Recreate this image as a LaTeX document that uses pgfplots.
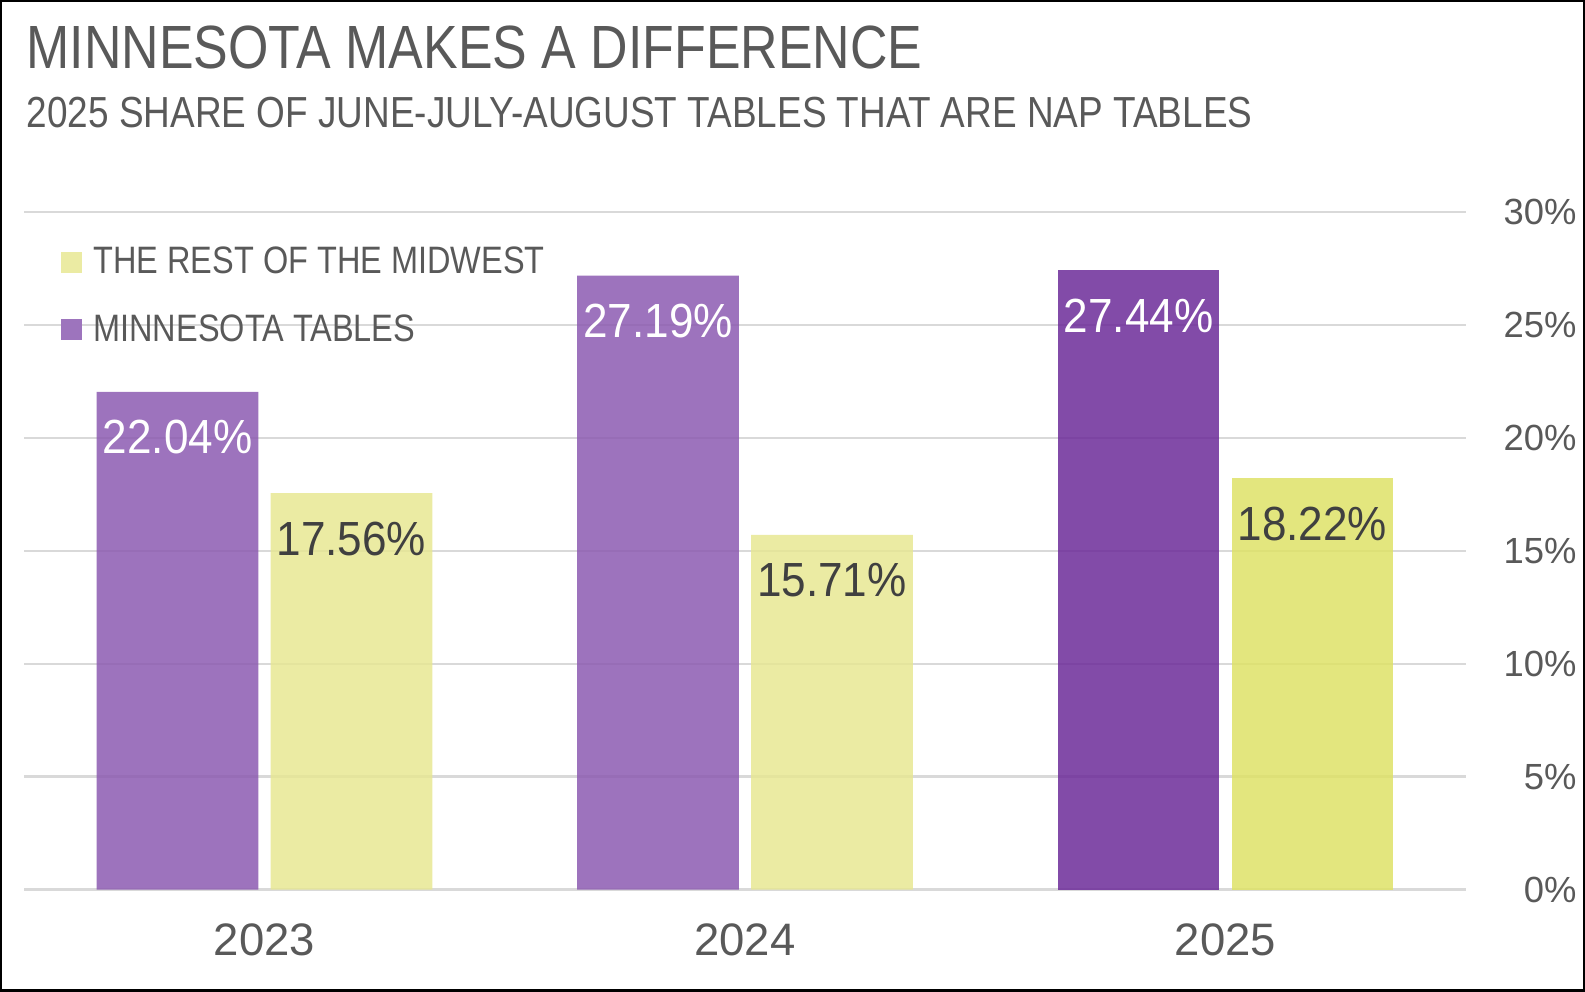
\documentclass[border=0pt]{standalone}
\usepackage{pgfplots}
\pgfplotsset{compat=1.18}
\usepackage{fontspec}
\setmainfont{Liberation Sans}[FakeStretch=0.85]
\newfontfamily\numfont{Liberation Sans}[FakeStretch=0.92]
\newfontfamily\tickfont{Liberation Sans}
\definecolor{txt}{HTML}{595959}
\definecolor{lbl}{HTML}{404040}
\definecolor{gridc}{HTML}{D9D9D9}
\definecolor{purA}{RGB}{140,91,177}
\definecolor{purB}{RGB}{108,43,153}
\definecolor{yelA}{RGB}{231,231,147}
\definecolor{yelB}{RGB}{222,226,103}
\definecolor{purL}{RGB}{157,116,189}
\definecolor{yelL}{RGB}{235,235,163}
\begin{document}
\begin{tikzpicture}[x=0.5pt,y=0.5pt]
\useasboundingbox (0,0) rectangle (1568,981);
\draw[line width=1.2pt] (1.2,1.2) rectangle (1566.8,979.8);
\node[anchor=base west, text=txt, font=\fontsize{30.2}{36}\selectfont, inner sep=0pt] at (26,913.5) {MINNESOTA MAKES A DIFFERENCE};
\node[anchor=base west, text=txt, font=\fontsize{21.5}{25}\selectfont, inner sep=0pt] at (26,854.5) {2025 SHARE OF JUNE-JULY-AUGUST TABLES THAT ARE NAP TABLES};
\begin{axis}[
  at={(12pt,50.5pt)}, anchor=south west,
  width=713pt, height=335pt, scale only axis,
  xmin=-0.5, xmax=2.5, ymin=0, ymax=30,
  clip=false,
  axis line style={draw=none},
  major tick length=0pt,
  ymajorgrids, grid style={color=gridc, line width=1.2pt},
  xtick={0,1,2}, xticklabels={2023,2024,2025},
  ytick={0,5,...,30},
  yticklabel pos=right,
  yticklabel={\pgfmathprintnumber{\tick}\%},
  /pgf/number format/assume math mode=true,
  yticklabel style={anchor=east, inner sep=0pt, xshift=55pt, text=txt, font=\tickfont\fontsize{18}{20}\selectfont},
  xticklabel style={anchor=base, inner sep=0pt, yshift=-32.5pt, text=txt, font=\tickfont\fontsize{22.5}{24}\selectfont},
  ybar, bar width=80pt,
  nodes near coords={\pgfmathprintnumber[fixed,fixed zerofill,precision=2]{\pgfplotspointmeta}\%},
  every node near coord/.append style={anchor=center, yshift=-22.5pt, font=\numfont\fontsize{23.7}{26}\selectfont},
  legend style={at={(axis description cs:0.025,0.955)}, anchor=north west, draw=none, fill=none,
    font=\fontsize{18.9}{22}\selectfont, text=txt, row sep=14.5pt, inner sep=0pt},
  legend cell align=left,
]
\addlegendimage{legend image code/.code={\fill[yelL] (0pt,-5pt) rectangle (10pt,5pt); \path[draw=none,fill=none] (0pt,0pt) rectangle (14pt,0pt);}}
\addlegendentry{THE REST OF THE MIDWEST}
\addlegendimage{legend image code/.code={\fill[purL] (0pt,-5pt) rectangle (10pt,5pt); \path[draw=none,fill=none] (0pt,0pt) rectangle (14pt,0pt);}}
\addlegendentry{MINNESOTA TABLES}
\addplot[forget plot, draw=none, fill=purA, fill opacity=0.85, bar shift=-43pt, text opacity=1, every node near coord/.append style={text=white}] coordinates {(0,22.04) (1,27.19)};
\addplot[forget plot, draw=none, fill=purB, fill opacity=0.85, bar shift=-43pt, text opacity=1, every node near coord/.append style={text=white}] coordinates {(2,27.44)};
\addplot[forget plot, draw=none, fill=yelA, fill opacity=0.85, bar shift=43pt, text opacity=1, every node near coord/.append style={text=lbl}] coordinates {(0,17.56) (1,15.71)};
\addplot[forget plot, draw=none, fill=yelB, fill opacity=0.85, bar shift=43pt, text opacity=1, every node near coord/.append style={text=lbl}] coordinates {(2,18.22)};
\end{axis}
\end{tikzpicture}
\end{document}
